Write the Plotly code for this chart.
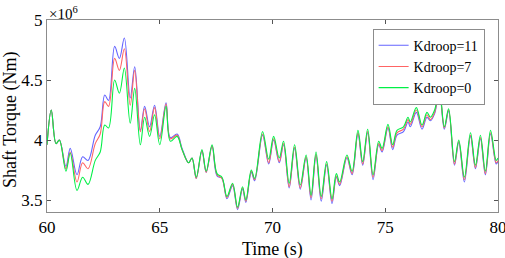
import plotly.graph_objects as go

time_s = [60.00, 60.19, 60.40, 60.55, 60.84, 61.03, 61.33, 61.58, 61.82, 62.14, 62.36, 62.56, 62.73,
          63.00, 63.21, 63.43, 63.69, 63.89, 64.14, 64.33, 64.55, 64.77, 65.00, 65.28, 65.47, 65.77,
          65.99, 66.28, 66.43, 66.62, 66.87, 67.06, 67.32, 67.54, 67.76, 67.98, 68.23, 68.45, 68.67,
          68.82, 69.06, 69.21, 69.56, 69.83, 70.05, 70.30, 70.49, 70.74, 70.98, 71.23, 71.49, 71.71,
          71.93, 72.16, 72.40, 72.64, 72.83, 72.98, 73.30, 73.53, 73.79, 74.00, 74.22, 74.46, 74.71,
          74.86, 75.12, 75.33, 75.52, 75.81, 76.01, 76.11, 76.38, 76.63, 76.85, 77.00, 77.19, 77.40,
          77.62, 77.81, 78.07, 78.26, 78.51, 78.78, 79.00, 79.22, 79.44, 79.67, 79.92, 80.00]

torque_k0 = [3.96, 4.25, 3.97, 4.00, 3.74, 3.89, 3.58, 3.69, 3.63, 3.83, 3.90, 4.125, 4.10,
             4.50, 4.39, 4.60, 4.14, 4.43, 3.96, 4.19, 4.03, 4.21, 3.96, 4.28, 3.99, 4.03,
             3.92, 3.81, 3.85, 3.69, 3.92, 3.74, 3.96, 3.72, 3.69, 3.53, 3.64, 3.44, 3.61,
             3.50, 3.75, 3.68, 4.07, 3.84, 4.03, 3.85, 3.99, 3.64, 3.96, 3.625, 3.875, 3.54,
             3.90, 3.53, 3.82, 3.51, 3.72, 3.65, 3.875, 3.74, 4.08, 3.82, 4.09, 3.71, 3.99,
             3.93, 4.13, 3.96, 4.08, 4.11, 4.19, 4.15, 4.27, 4.125, 4.23, 4.19, 4.25, 4.42,
             4.11, 4.26, 3.82, 4.00, 3.69, 4.06, 3.79, 4.04, 3.74, 4.08, 3.83, 3.85]

torque_k7 = [3.96, 4.25, 3.97, 4.00, 3.76, 3.90, 3.65, 3.81, 3.76, 3.97, 4.05, 4.32, 4.28,
             4.68, 4.58, 4.76, 4.29, 4.58, 4.07, 4.26, 4.07, 4.27, 4.01, 4.30, 4.01, 4.04,
             3.92, 3.81, 3.85, 3.68, 3.91, 3.73, 3.95, 3.71, 3.68, 3.52, 3.63, 3.43, 3.60,
             3.49, 3.74, 3.67, 4.05, 3.81, 4.01, 3.82, 3.97, 3.61, 3.94, 3.60, 3.86, 3.52,
             3.88, 3.51, 3.80, 3.49, 3.70, 3.63, 3.86, 3.72, 4.06, 3.80, 4.07, 3.69, 3.97,
             3.91, 4.11, 3.94, 4.06, 4.09, 4.17, 4.13, 4.25, 4.11, 4.21, 4.17, 4.23, 4.41,
             4.10, 4.25, 3.80, 3.99, 3.67, 4.04, 3.77, 4.02, 3.72, 4.06, 3.81, 3.83]

torque_k11 = [3.96, 4.25, 3.97, 4.00, 3.78, 3.93, 3.71, 3.86, 3.83, 4.04, 4.11, 4.375, 4.33,
              4.78, 4.68, 4.85, 4.35, 4.61, 4.08, 4.28, 4.11, 4.29, 4.03, 4.31, 4.02, 4.05,
              3.93, 3.81, 3.85, 3.68, 3.91, 3.73, 3.95, 3.70, 3.68, 3.51, 3.62, 3.42, 3.59,
              3.48, 3.73, 3.66, 4.04, 3.80, 4.00, 3.81, 3.96, 3.60, 3.93, 3.59, 3.85, 3.50,
              3.87, 3.49, 3.79, 3.47, 3.69, 3.62, 3.85, 3.71, 4.05, 3.79, 4.06, 3.67, 3.96,
              3.90, 4.10, 3.92, 4.04, 4.07, 4.15, 4.11, 4.23, 4.09, 4.19, 4.16, 4.22, 4.40,
              4.09, 4.24, 3.79, 3.98, 3.65, 4.03, 3.76, 4.01, 3.71, 4.05, 3.80, 3.82]

series_names = ["Kdroop=11", "Kdroop=7", "Kdroop=0"]
series_values = [torque_k11, torque_k7, torque_k0]
series_colors = ["rgb(100,100,255)", "rgb(255,100,100)", "rgb(0,240,70)"]

x_ticks = [60, 65, 70, 75, 80]
y_ticks = [3.5, 4, 4.5, 5]
y_tick_labels = ["3.5", "4", "4.5", "5"]

font_family = "Liberation Serif"

fig = go.Figure()
for name, vals, col in zip(series_names, series_values, series_colors):
    fig.add_trace(go.Scatter(x=time_s, y=vals, mode="lines", name=name,
                             line=dict(color=col, width=1.1, shape="spline", smoothing=1.0)))

axis_common = dict(showgrid=False, zeroline=False, showline=True, linecolor="#8c8c8c",
                   linewidth=1, mirror="ticks", ticks="inside", ticklen=4, tickcolor="#555",
                   ticklabeloverflow="allow", automargin=False,
                   tickfont=dict(family=font_family, size=17, color="black"))

fig.update_layout(
    template="none",
    width=505, height=258,
    margin=dict(l=47, r=7, t=20, b=46),
    plot_bgcolor="white", paper_bgcolor="white",
    font=dict(family=font_family, color="black"),
    showlegend=True,
    legend=dict(x=0.722, y=0.955, xanchor="left", yanchor="top",
                bgcolor="white", bordercolor="#8c8c8c", borderwidth=1,
                font=dict(family=font_family, size=14, color="black"),
                tracegroupgap=0, itemwidth=30),
    xaxis=dict(range=[60, 80], tickvals=x_ticks, **axis_common),
    yaxis=dict(range=[3.4, 5.0], tickvals=y_ticks, ticktext=y_tick_labels, **axis_common),
)

fig.add_annotation(text="Time (s)", xref="paper", yref="paper", x=0.5, y=0, yshift=-37,
                   xanchor="center", yanchor="middle", showarrow=False,
                   font=dict(family=font_family, size=18, color="black"))
fig.add_annotation(text="Shaft Torque (Nm)", xref="paper", yref="paper", x=0, xshift=-37, y=0.5,
                   yshift=-4, xanchor="center", yanchor="middle", showarrow=False, textangle=-90,
                   font=dict(family=font_family, size=18, color="black"))
fig.add_annotation(text="×10<sup>6</sup>", xref="paper", yref="paper", x=0.0, y=1.0,
                   xanchor="left", yanchor="bottom", showarrow=False, yshift=-4,
                   font=dict(family=font_family, size=15, color="black"))

fig.write_html("out.html", config={"displayModeBar": False},
               post_script="document.body.style.margin='0';document.body.style.padding='0';")
